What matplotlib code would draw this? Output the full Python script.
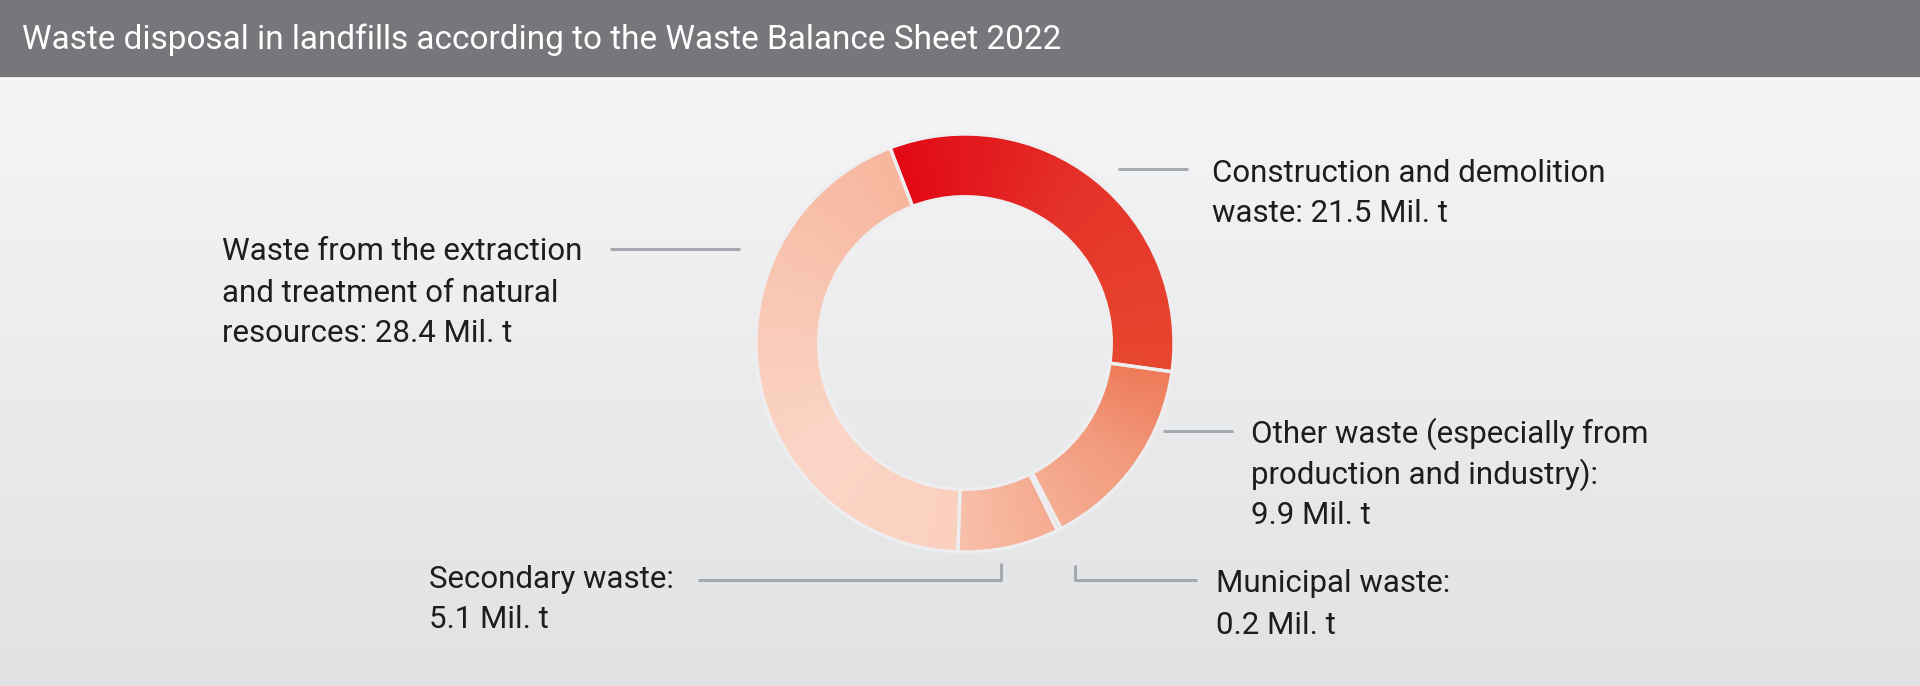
import numpy as np
import matplotlib
matplotlib.use("Agg")
import matplotlib.pyplot as plt
from matplotlib.colors import to_rgb

# data (Mil. t), clockwise from the top
categories = ["Construction and demolition\nwaste",
              "Other waste (especially from\nproduction and industry)",
              "Municipal waste",
              "Secondary waste",
              "Waste from the extraction\nand treatment of natural\nresources"]
values = [21.5, 9.9, 0.2, 5.1, 28.4]
value_sep = [": ", ":\n", ":\n", ":\n", ": "]
title = "Waste disposal in landfills according to the Waste Balance Sheet 2022"

# gradient stops per wedge (clockwise start -> end)
wedge_colors = [["#e20815", "#e5342a", "#e8472f"],
                ["#ee7a58", "#f29a7c", "#f5ad93"],
                ["#f3a88e", "#f3a88e"],
                ["#f5ab91", "#f8c0aa"],
                ["#fbd0bf", "#fbd6c7", "#f9c7b3", "#f7b69d"]]

# label layout in pixels (x left, y of first line centre) and leader lines
label_pos = [(1212, 171), (1251, 432), (1216, 582), (429, 577), (222, 250)]
leaders = [[(1118, 169), (1188, 169)],
           [(1163, 431), (1233, 431)],
           [(1075, 565), (1075, 580), (1197, 580)],
           [(698, 580), (1001, 580), (1001, 563)],
           [(610, 249), (740, 249)]]

W, H = 1920, 686
bg_line = "#eeeef0"
text_col = "#1d1d1b"
plt.rcParams["font.family"] = ["Roboto", "DejaVu Sans"]

fig = plt.figure(figsize=(W / 100, H / 100), dpi=100)

# background + header
bg = fig.add_axes([0, 0, 1, 1])
bg.set_xlim(0, W)
bg.set_ylim(H, 0)
bg.axis("off")
grad = np.linspace(0, 1, 256).reshape(-1, 1)
top_c, bot_c = np.array(to_rgb("#f5f5f6")), np.array(to_rgb("#e1e2e4"))
bg_img = top_c + (bot_c - top_c) * grad[..., None]
bg.imshow(bg_img.reshape(256, 1, 3), extent=[0, W, H, 78], aspect="auto", zorder=0)
bg.add_patch(plt.Rectangle((0, 76), W, 2, color="#fbfbfb", zorder=1))
bg.add_patch(plt.Rectangle((0, 0), W, 76, color="#75777b", zorder=1))
bg.text(22, 40, title, color="white", fontsize=24, fontweight="normal",
        va="center", ha="left", zorder=2)

# donut
cx, cy, R = 965, 343, 209
half = 1.2 * R
ax = fig.add_axes([(cx - half) / W, (H - cy - half) / H, 2 * half / W, 2 * half / H])
wedges, _ = ax.pie(values, startangle=111, counterclock=False, radius=1,
                   wedgeprops=dict(width=0.3, edgecolor=bg_line, linewidth=2.4))
ax.set_xlim(-1.2, 1.2)
ax.set_ylim(-1.2, 1.2)
ax.set_aspect("equal")
ax.axis("off")

n = 700
xs = np.linspace(-1.05, 1.05, n)
X, Y = np.meshgrid(xs, xs)
ang = np.degrees(np.arctan2(Y, X))
for w, stops in zip(wedges, wedge_colors):
    span = w.theta2 - w.theta1
    t = np.clip(((w.theta2 - ang) % 360) / span, 0, 1)
    cols = np.array([to_rgb(c) for c in stops])
    pos = np.linspace(0, 1, len(stops))
    img = np.stack([np.interp(t, pos, cols[:, k]) for k in range(3)], axis=-1)
    im = ax.imshow(img, extent=[-1.05, 1.05, -1.05, 1.05], origin="lower",
                   interpolation="bilinear", zorder=1)
    im.set_clip_path(w)
    w.set_facecolor("none")
    w.set_zorder(2)

# labels and leader lines
for cat, val, sep, (lx, ly), pts in zip(categories, values, value_sep, label_pos, leaders):
    lines = (f"{cat}{sep}{val} Mil. t").split("\n")
    for i, line in enumerate(lines):
        bg.text(lx, ly + i * 41 + 2, line, color=text_col, fontsize=22.5,
                va="center", ha="left", zorder=3)
    px, py = zip(*pts)
    bg.plot(px, py, color="#a5aab1", linewidth=2.2, solid_capstyle="butt", zorder=3)

fig.savefig("out.png", dpi=100)
